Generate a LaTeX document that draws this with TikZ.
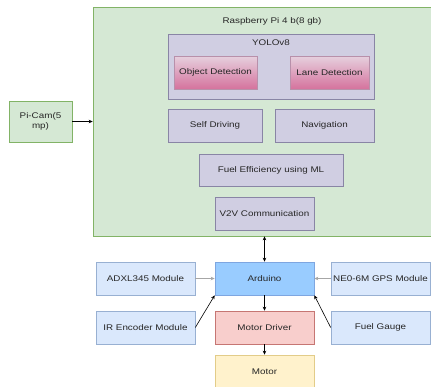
\documentclass[tikz,border=0pt]{standalone}
\usepackage{fontspec}
\setmainfont{Liberation Sans}[FakeStretch=1.2]
\usetikzlibrary{arrows.meta}

\definecolor{piFill}{HTML}{D5E8D4}
\definecolor{piLine}{HTML}{82B366}
\definecolor{swFill}{HTML}{D0CEE2}
\definecolor{swLine}{HTML}{56517E}
\definecolor{detTop}{HTML}{E6D0DE}
\definecolor{detBot}{HTML}{D5739D}
\definecolor{detLine}{HTML}{996185}
\definecolor{modFill}{HTML}{DAE8FC}
\definecolor{modLine}{HTML}{6C8EBF}
\definecolor{ardFill}{HTML}{99CCFF}
\definecolor{ardLine}{HTML}{7EA6E0}
\definecolor{drvFill}{HTML}{F8CECC}
\definecolor{drvLine}{HTML}{B85450}
\definecolor{motFill}{HTML}{FFF2CC}
\definecolor{motLine}{HTML}{D6B656}

\begin{document}
\begin{tikzpicture}[x=1pt, y=-1pt,
    every node/.style={font=\fontsize{8.2}{9.5}\selectfont, text=black!85, inner sep=1pt},
    box/.style={rectangle, draw, line width=0.6pt, align=center},
    board/.style={box, fill=piFill, draw=piLine},
    soft/.style={box, fill=swFill, draw=swLine!70},
    detect/.style={box, top color=detTop, bottom color=detBot, draw=detLine!70},
    module/.style={box, fill=modFill, draw=modLine!70, minimum width=99pt, minimum height=33pt},
    arduino/.style={box, fill=ardFill, draw=ardLine},
    link/.style={-{Stealth[length=4pt,width=3.5pt]}, line width=0.6pt},
    grey link/.style={link, draw=gray!70}
]
    \useasboundingbox (0,0) rectangle (431,386);

    % Raspberry Pi block
    \node[board, minimum width=338pt, minimum height=229pt] (rpi) at (262,121.5) {};
    \node (rpititle) at (272,21) {Raspberry Pi 4 b(8 gb)};
    \node[soft, minimum width=206pt, minimum height=65pt] (yolo) at (271,66.5) {};
    \node (yolotitle) at (271,43) {YOLOv8};
    \node[detect, minimum width=83pt, minimum height=33pt] (objdet) at (215.5,72.5) {Object Detection};
    \node[detect, minimum width=79pt, minimum height=33pt] (lanedet) at (329.5,72.5) {Lane Detection};
    \node[soft, minimum width=94pt, minimum height=33pt] (selfdrv) at (215,125.5) {Self Driving};
    \node[soft, minimum width=99pt, minimum height=33pt] (nav) at (324.5,125.5) {Navigation};
    \node[soft, minimum width=144pt, minimum height=32pt] (fuelml) at (271,170) {Fuel Efficiency using ML};
    \node[soft, minimum width=99pt, minimum height=33pt] (v2v) at (264.5,213.5) {V2V Communication};

    % camera
    \node[board, minimum width=63pt, minimum height=41pt] (picam) at (40.5,121.5) {Pi-Cam(5\\mp)};

    % Arduino side
    \node[arduino, minimum width=99pt, minimum height=33pt] (ard) at (264.5,278.5) {Arduino};
    \node[module] (adxl) at (145.5,278.5) {ADXL345 Module};
    \node[module] (gps) at (380.5,278.5) {NE0-6M GPS Module};
    \node[module] (irenc) at (145.5,327.5) {IR Encoder Module};
    \node[module] (gauge) at (380.5,327.5) {Fuel Gauge};
    \node[box, fill=drvFill, draw=drvLine!80, minimum width=99pt, minimum height=33pt] (mdrv) at (264.5,327.5) {Motor Driver};
    \node[box, fill=motFill, draw=motLine!70, minimum width=99pt, minimum height=33pt] (motor) at (264.5,371.5) {Motor};

    \draw[link] (picam) -- (rpi.west |- picam);
    \draw[link, {Stealth[length=4pt,width=3.5pt]}-{Stealth[length=4pt,width=3.5pt]}] (rpi.south -| ard) -- (ard);
    \draw[grey link] (adxl) -- (ard);
    \draw[grey link] (gps) -- (ard);
    \draw[link] (irenc.east) -- (ard.south west);
    \draw[link] (gauge.west) -- (ard.south east);
    \draw[link] (ard) -- (mdrv);
    \draw[link] (mdrv) -- (motor);
\end{tikzpicture}
\end{document}
